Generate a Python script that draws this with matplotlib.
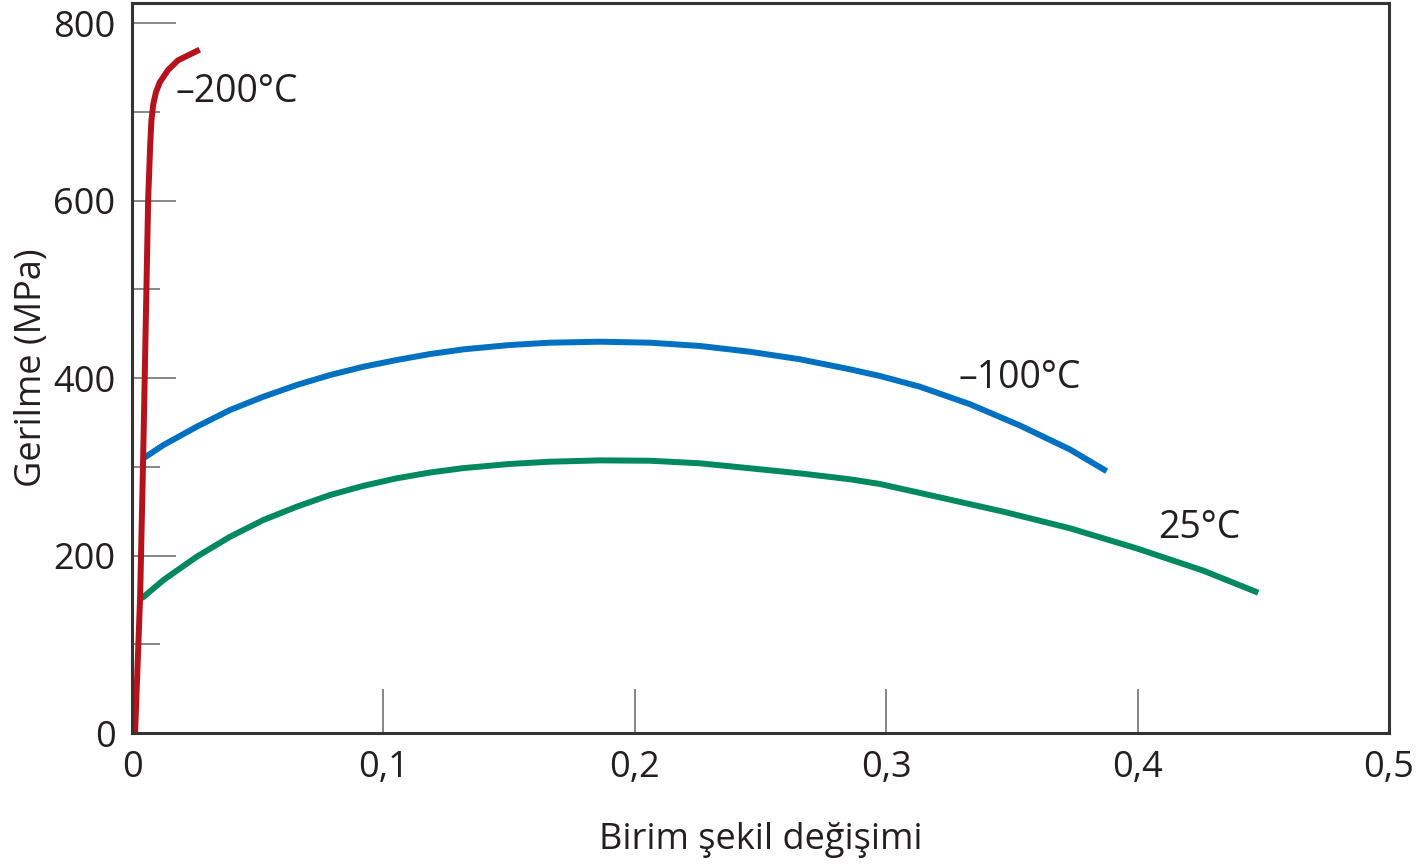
import matplotlib
matplotlib.use("Agg")
import matplotlib.pyplot as plt

# stress-strain data (strain, MPa)
strain_m200 = [0.0012, 0.0032, 0.0044, 0.0064, 0.0072, 0.0077, 0.0084, 0.0095, 0.0110, 0.0143, 0.0183, 0.0269]
stress_m200 = [0, 153, 308, 601, 662, 690, 708, 722, 733, 747, 758, 770]

strain_m100 = [0.0045, 0.0125, 0.0257, 0.0390, 0.0522, 0.0655, 0.0788, 0.0920, 0.1053, 0.1185,
               0.1318, 0.1504, 0.1663, 0.1862, 0.2060, 0.2259, 0.2458, 0.2657, 0.2856, 0.2975,
               0.3134, 0.3333, 0.3532, 0.3731, 0.3877]
stress_m100 = [309.5, 324.5, 345.1, 364.0, 378.9, 392.1, 403.4, 412.7, 420.3, 427.0,
               432.3, 437.2, 439.8, 440.9, 439.8, 436.1, 429.6, 421.1, 409.8, 402.3,
               390.2, 370.5, 346.5, 319.5, 295.0]

strain_25 = [0.0039, 0.0125, 0.0257, 0.0390, 0.0522, 0.0655, 0.0788, 0.0920, 0.1053, 0.1185,
             0.1318, 0.1504, 0.1663, 0.1862, 0.2060, 0.2259, 0.2458, 0.2657, 0.2856, 0.2975,
             0.3201, 0.3466, 0.3731, 0.3996, 0.4261, 0.4480]
stress_25 = [151.8, 172.4, 198.6, 221.2, 240.0, 255.0, 268.2, 278.5, 287.0, 293.5,
             298.5, 303.2, 305.7, 307.2, 306.8, 303.9, 298.3, 292.6, 285.9, 280.6,
             266.3, 249.4, 230.7, 208.1, 183.0, 158.1]

xticks = [0, 0.1, 0.2, 0.3, 0.4, 0.5]
xtick_labels = ["0", "0,1", "0,2", "0,3", "0,4", "0,5"]
yticks = [0, 200, 400, 600, 800]
yminor = [100, 300, 500, 700]

txt = "#231f20"
plt.rcParams['font.family'] = ['Open Sans', 'DejaVu Sans']

fig = plt.figure(figsize=(14.17, 8.68), dpi=100)
ax = fig.add_axes([0.0932, 0.1555, 0.8870, 0.841])

ax.plot(strain_25, stress_25, color="#00895f", lw=4.3, solid_capstyle="butt", solid_joinstyle="round")
ax.plot(strain_m100, stress_m100, color="#0070c0", lw=4.3, solid_capstyle="butt", solid_joinstyle="round")
ax.plot(strain_m200, stress_m200, color="#b5121b", lw=4.3, solid_capstyle="butt", solid_joinstyle="round")

ax.set_xlim(0, 0.5)
ax.set_ylim(0, 822.5)

ax.set_xticks(xticks)
ax.set_xticklabels(xtick_labels)
ax.set_yticks(yticks)
ax.set_yticks(yminor, minor=True)

ax.tick_params(axis="both", which="major", direction="in", length=32, width=1.1,
               color="#666666", labelsize=26, labelcolor=txt, pad=12)
ax.tick_params(axis="y", which="minor", direction="in", length=20, width=1.1, color="#666666")

for s in ax.spines.values():
    s.set_linewidth(2.2)
    s.set_color("#333333")

# curve labels
ax.text(0.0171, 722, "\u2013200\u00b0C", fontsize=27, color=txt, va="center", ha="left")
ax.text(0.3286, 400, "\u2013100\u00b0C", fontsize=27, color=txt, va="center", ha="left")
ax.text(0.408, 231, "25\u00b0C", fontsize=27, color=txt, va="center", ha="left")

ax.set_xlabel("Birim şekil değişimi", fontsize=26, color=txt, va="center")
ax.set_ylabel("Gerilme (MPa)", fontsize=26, color=txt, va="center")
ax.xaxis.set_label_coords(0.5, -0.147)
ax.yaxis.set_label_coords(-0.08, 0.5)

fig.savefig("out.png", dpi=100)
plt.close()
